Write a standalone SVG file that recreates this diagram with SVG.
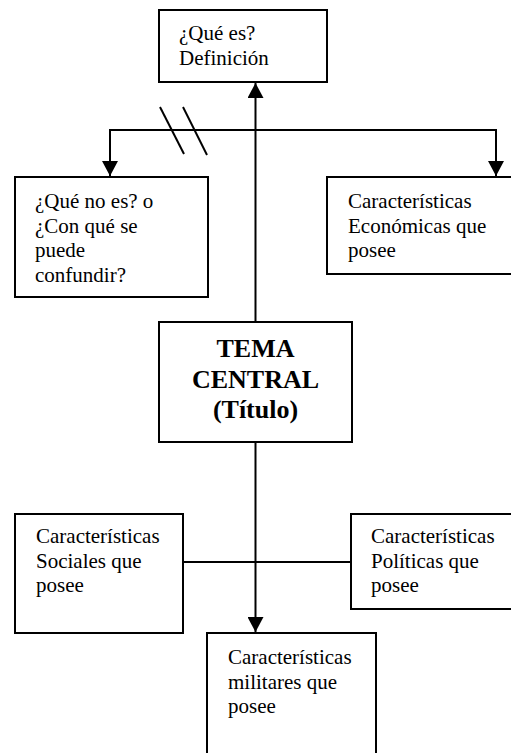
<svg xmlns="http://www.w3.org/2000/svg" width="511" height="753" viewBox="0 0 511 753">
<style>
.box{fill:#fff;stroke:#000;stroke-width:2}
.t{font-family:"Liberation Serif","Times New Roman",serif;font-size:21px;fill:#000}
.b{font-family:"Liberation Serif","Times New Roman",serif;font-size:26px;font-weight:bold;fill:#000;text-anchor:middle}
.c{fill:none;stroke:#000;stroke-width:2}
</style>
<defs>
<marker id="ah" markerUnits="userSpaceOnUse" markerWidth="16" markerHeight="16" viewBox="0 0 16 16" refX="15" refY="8" orient="auto">
<path d="M0,0 L15,8 L0,16 Z" fill="#000"/>
</marker>
</defs>
<g id="connectors">
<line class="c" x1="255.5" y1="322" x2="255.5" y2="83" marker-end="url(#ah)"/>
<path class="c" d="M255.5,130 H110 V176" marker-end="url(#ah)"/>
<path class="c" d="M255.5,130 H496 V176" marker-end="url(#ah)"/>
<line class="c" x1="160" y1="107" x2="184" y2="154"/>
<line class="c" x1="183" y1="107" x2="207" y2="155"/>
<line class="c" x1="255.5" y1="442" x2="255.5" y2="632" marker-end="url(#ah)"/>
<line class="c" x1="183" y1="562" x2="351" y2="562"/>
</g>
<g id="n-definicion">
<rect class="box" x="159" y="10" width="168" height="72"/>
<text class="t" x="179" y="40">¿Qué es?</text>
<text class="t" x="179" y="65">Definición</text>
</g>
<g id="n-que-no-es">
<rect class="box" x="15" y="177" width="193" height="120"/>
<text class="t" x="35" y="208">¿Qué no es? o</text>
<text class="t" x="35" y="232.5">¿Con qué se</text>
<text class="t" x="35" y="257">puede</text>
<text class="t" x="35" y="281.5">confundir?</text>
</g>
<g id="n-economicas">
<rect class="box" x="327" y="177" width="200" height="97"/>
<text class="t" x="348" y="208">Características</text>
<text class="t" x="348" y="232.5">Económicas que</text>
<text class="t" x="348" y="257">posee</text>
</g>
<g id="n-central">
<rect class="box" x="159" y="322" width="193" height="120"/>
<text class="b" x="255.5" y="357">TEMA</text>
<text class="b" x="255.5" y="388">CENTRAL</text>
<text class="b" x="255.5" y="418">(Título)</text>
</g>
<g id="n-sociales">
<rect class="box" x="15" y="514" width="168" height="119"/>
<text class="t" x="36" y="543">Características</text>
<text class="t" x="36" y="567.5">Sociales que</text>
<text class="t" x="36" y="592">posee</text>
</g>
<g id="n-politicas">
<rect class="box" x="351" y="514" width="180" height="95"/>
<text class="t" x="371" y="543">Características</text>
<text class="t" x="371" y="567.5">Políticas que</text>
<text class="t" x="371" y="592">posee</text>
</g>
<g id="n-militares">
<rect class="box" x="207" y="633" width="169" height="140"/>
<text class="t" x="228" y="664">Características</text>
<text class="t" x="228" y="688.5">militares que</text>
<text class="t" x="228" y="713">posee</text>
</g>
</svg>
